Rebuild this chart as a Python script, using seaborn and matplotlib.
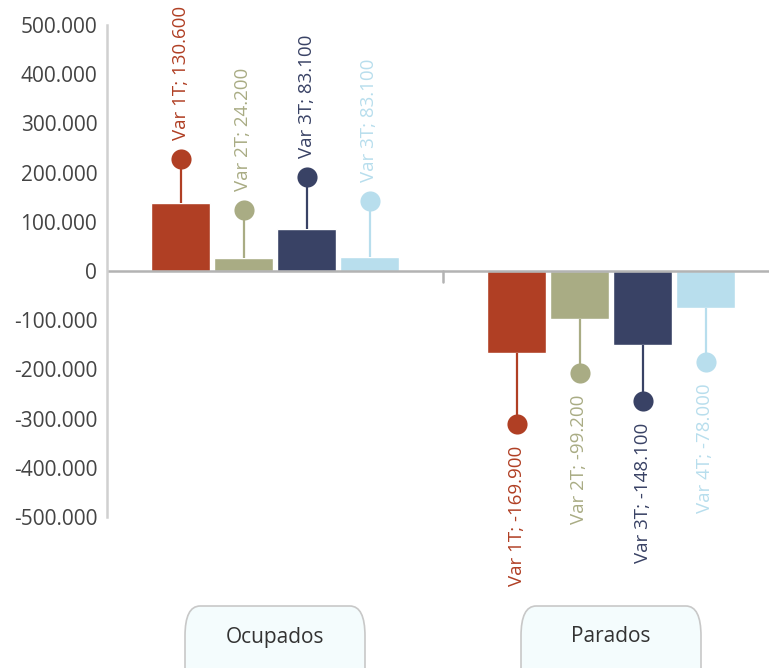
import matplotlib
matplotlib.use("Agg")
import matplotlib.pyplot as plt
import seaborn as sns
import pandas as pd
from matplotlib.patches import FancyBboxPatch
from matplotlib.transforms import blended_transform_factory

# ---- data ----
categories = ["Ocupados", "Parados"]
series = ["Var 1T", "Var 2T", "Var 3T", "Var 4T"]
bar_values = {
    "Var 1T": [138000, -167000],
    "Var 2T": [26000, -98000],
    "Var 3T": [85000, -150000],
    "Var 4T": [29000, -75000],
}
dot_values = {
    "Var 1T": [228000, -311000],
    "Var 2T": [124000, -207000],
    "Var 3T": [191000, -265000],
    "Var 4T": [142000, -185000],
}
dot_labels = {
    "Var 1T": ["Var 1T; 130.600", "Var 1T; -169.900"],
    "Var 2T": ["Var 2T; 24.200", "Var 2T; -99.200"],
    "Var 3T": ["Var 3T; 83.100", "Var 3T; -148.100"],
    "Var 4T": ["Var 3T; 83.100", "Var 4T; -78.000"],
}
colors = ["#B03F24", "#A9AC84", "#394265", "#B8DEED"]
yticks = [500000, 400000, 300000, 200000, 100000, 0,
          -100000, -200000, -300000, -400000, -500000]
ytick_labels = ["500.000", "400.000", "300.000", "200.000", "100.000", "0",
                "-100.000", "-200.000", "-300.000", "-400.000", "-500.000"]

rows = []
for s in series:
    for c, v in zip(categories, bar_values[s]):
        rows.append({"cat": c, "series": s, "value": v})
df = pd.DataFrame(rows)

sns.set_theme(style="white")
plt.rcParams["font.family"] = ["Open Sans", "DejaVu Sans"]

W, H = 769, 668
fig = plt.figure(figsize=(W / 100, H / 100), dpi=100)
ax = fig.add_axes([107 / W, (H - 517) / H, 672 / W, 492 / H])

sns.barplot(data=df, x="cat", y="value", hue="series", hue_order=series,
            order=categories, palette=colors, width=0.75, gap=0.06,
            saturation=1, legend=False, ax=ax, errorbar=None)

for cont, s, col in zip(ax.containers, series, colors):
    for bar, dv, lab in zip(cont, dot_values[s], dot_labels[s]):
        x = bar.get_x() + bar.get_width() / 2
        y0 = bar.get_y()
        y1 = bar.get_y() + bar.get_height()
        end = max(y0, y1) if dv >= 0 else min(y0, y1)
        ax.plot([x, x], [end, dv], color=col, lw=1.6, zorder=3, solid_capstyle="butt")
        ax.scatter([x], [dv], s=210, color=col, zorder=4, linewidths=0)
        if dv >= 0:
            ax.annotate(lab, (x, dv), xytext=(0, 13.5), textcoords="offset points",
                        rotation=90, ha="center", va="bottom", color=col, fontsize=13.5)
        else:
            ax.annotate(lab, (x, dv), xytext=(0, -15.5), textcoords="offset points",
                        rotation=90, ha="center", va="top", color=col, fontsize=13.5)

ax.set_ylim(-500000, 500000)
ax.set_xlim(-0.5, 1.5)
ax.set_yticks(yticks)
ax.set_yticklabels(ytick_labels)
ax.tick_params(axis="y", length=0, pad=7, labelsize=15, labelcolor="#444444")
ax.set_xticks([])
ax.set_xlabel("")
ax.set_ylabel("")
for sp in ["top", "right", "bottom"]:
    ax.spines[sp].set_visible(False)
ax.spines["left"].set_color("#d0d0d0")
ax.spines["left"].set_linewidth(1.8)
ax.axhline(0, color="#b3b3b3", lw=1.8, zorder=2)
ax.plot([0.5, 0.5], [0, -22000], color="#b3b3b3", lw=1.8, zorder=2)

# category label boxes
tr = blended_transform_factory(ax.transData, fig.transFigure)
bw = 180 / 336
for i, c in enumerate(categories):
    box = FancyBboxPatch((i - bw / 2, (H - 700) / H), bw, 94 / H,
                         boxstyle="round,pad=0,rounding_size=0.045",
                         transform=tr, facecolor="#F4FCFD", edgecolor="#C8C8C8",
                         lw=1.2, clip_on=False, zorder=5)
    ax.add_patch(box)
    ax.text(i, (H - 637) / H, c, transform=tr, ha="center", va="center",
            fontsize=15, color="#333333", zorder=6, clip_on=False)

fig.savefig("out.png", dpi=100)
